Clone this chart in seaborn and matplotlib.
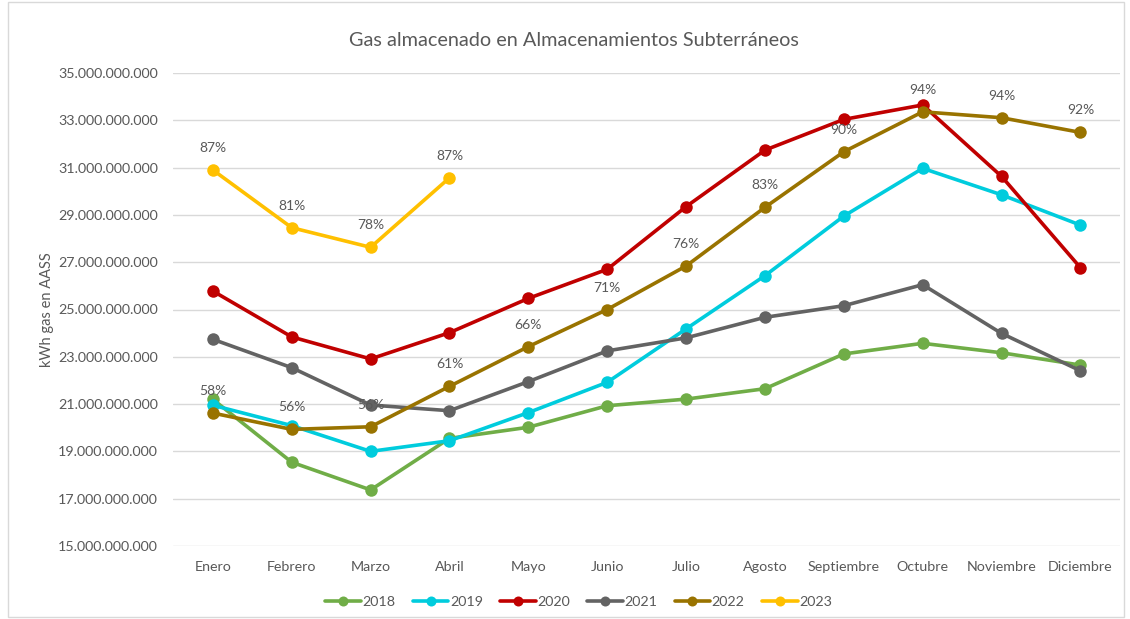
import numpy as np
import pandas as pd
import seaborn as sns
import matplotlib.pyplot as plt
from matplotlib.patches import Rectangle
from matplotlib.ticker import FuncFormatter

meses = ['Enero', 'Febrero', 'Marzo', 'Abril', 'Mayo', 'Junio', 'Julio',
         'Agosto', 'Septiembre', 'Octubre', 'Noviembre', 'Diciembre']

# miles de millones de kWh
v2018 = [21.20, 18.54, 17.37, 19.55, 20.02, 20.93, 21.21, 21.65, 23.12, 23.57, 23.17, 22.65]
v2019 = [20.95, 20.09, 19.00, 19.45, 20.64, 21.92, 24.18, 26.43, 28.95, 30.97, 29.85, 28.57]
v2020 = [25.78, 23.84, 22.91, 24.02, 25.47, 26.70, 29.35, 31.74, 33.04, 33.65, 30.63, 26.77]
v2021 = [23.74, 22.54, 20.96, 20.72, 21.95, 23.25, 23.80, 24.67, 25.16, 26.05, 23.99, 22.41]
v2022 = [20.62, 19.93, 20.04, 21.75, 23.43, 25.00, 26.84, 29.32, 31.67, 33.36, 33.11, 32.49]
v2023 = [30.90, 28.46, 27.63, 30.57]

pct_2022 = [58, 56, 56, 61, 66, 71, 76, 83, 90, 94, 94, 92]
pct_2023 = [87, 81, 78, 87]

series = {'2018': v2018, '2019': v2019, '2020': v2020,
          '2021': v2021, '2022': v2022, '2023': v2023}
colores = {'2018': '#70AD47', '2019': '#00CCDD', '2020': '#C00000',
           '2021': '#636363', '2022': '#997300', '2023': '#FFC000'}

filas = []
for anio, vals in series.items():
    for i, v in enumerate(vals):
        filas.append({'mes': i, 'kwh': v * 1e9, 'anio': anio})
df = pd.DataFrame(filas)

sns.set_style('white')
plt.rcParams['font.family'] = ['Lato', 'DejaVu Sans']

fig = plt.figure(figsize=(11.3, 6.19), dpi=100)
ax = fig.add_axes([0.1535, 0.118, 0.8375, 0.764])

sns.lineplot(data=df, x='mes', y='kwh', hue='anio', palette=colores,
             marker='o', markersize=9, markeredgewidth=0, linewidth=2.6,
             sort=False, ax=ax)

gris = '#595959'
for i, p in enumerate(pct_2022):
    ax.annotate(f'{p}%', (i, v2022[i] * 1e9), xytext=(0, 22),
                textcoords='offset pixels', ha='center', va='center',
                fontsize=10, color=gris)
for i, p in enumerate(pct_2023):
    ax.annotate(f'{p}%', (i, v2023[i] * 1e9), xytext=(0, 22),
                textcoords='offset pixels', ha='center', va='center',
                fontsize=10, color=gris)

ax.set_xlim(-0.5, 11.5)
ax.set_ylim(15e9, 35e9)
ax.set_yticks(np.arange(15e9, 35.1e9, 2e9))
ax.yaxis.set_major_formatter(FuncFormatter(lambda v, _: f'{v:,.0f}'.replace(',', '.')))
ax.set_xticks(range(12))
ax.set_xticklabels(meses)
ax.tick_params(axis='both', length=0, labelsize=10.3, labelcolor=gris)
ax.tick_params(axis='x', pad=11)
ax.tick_params(axis='y', pad=11)
ax.grid(axis='y', color='#D9D9D9', linewidth=1)
ax.set_axisbelow(True)
for s in ax.spines.values():
    s.set_visible(False)

ax.set_xlabel('')
ax.set_ylabel('kWh gas en AASS', fontsize=10.5, color=gris, labelpad=3)
fig.text(0.508, 0.935, 'Gas almacenado en Almacenamientos Subterráneos',
         ha='center', va='center', fontsize=14.3, color=gris)

handles, labels = ax.get_legend_handles_labels()
ax.legend(handles, labels, loc='center', bbox_to_anchor=(0.428, -0.118),
          ncol=6, frameon=False, fontsize=10.3, handlelength=2.5,
          handletextpad=0.1, columnspacing=1.2, labelcolor=gris,
          markerscale=0.8)

fig.patches.append(Rectangle((0.007, 0.004), 0.988, 0.993, transform=fig.transFigure,
                             fill=False, edgecolor='#D9D9D9', linewidth=1))

fig.savefig('out.png', dpi=100)
